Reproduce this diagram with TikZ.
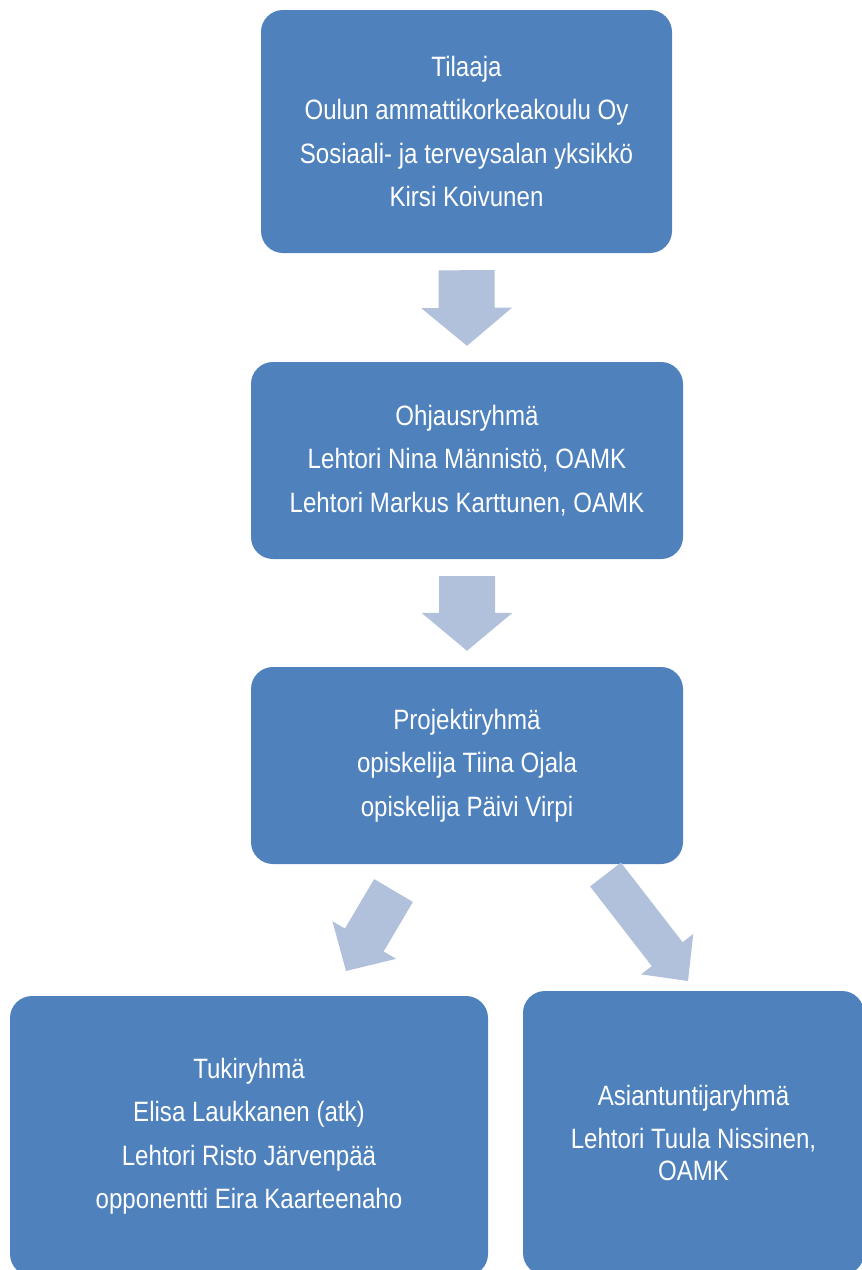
\documentclass[tikz,border=0pt]{standalone}
\usepackage{fontspec}
\setmainfont[FakeStretch=0.86]{Liberation Sans}
\usetikzlibrary{calc}
\definecolor{boxblue}{HTML}{4F81BD}
\definecolor{arrowblue}{HTML}{B2C1DB}
% block arrow: from, to, shaft half width, head half width, head length
\newcommand{\blockarrow}[5]{%
  \coordinate (h) at ($(#2)!#5!(#1)$);
  \fill[arrowblue] ($(#1)!#3!90:(#2)$) -- ($(h)!#3!90:(#2)$) -- ($(h)!#4!90:(#2)$)
    -- (#2) -- ($(h)!#4!-90:(#2)$) -- ($(h)!#3!-90:(#2)$) -- ($(#1)!#3!-90:(#2)$) -- cycle;}
\begin{document}
\begin{tikzpicture}[x=1pt,y=-1pt,
  box/.style={rectangle,rounded corners=22pt,fill=boxblue,text=white,align=center,
    inner sep=0pt,font=\fontsize{28}{32}\selectfont}]
\useasboundingbox (0,0) rectangle (862,1270);
\node[box,minimum width=411pt,minimum height=243pt] (tilaaja) at (466.5,131.5)
  {Tilaaja\\[11.5pt]Oulun ammattikorkeakoulu Oy\\[11.5pt]Sosiaali- ja terveysalan yksikkö\\[11.5pt]Kirsi Koivunen};
\node[box,minimum width=432pt,minimum height=197pt] (ohjaus) at (467,460.5)
  {Ohjausryhmä\\[11.5pt]Lehtori Nina Männistö, OAMK\\[11.5pt]Lehtori Markus Karttunen, OAMK};
\node[box,minimum width=432pt,minimum height=197pt] (projekti) at (467,765.5)
  {Projektiryhmä\\[11.5pt]opiskelija Tiina Ojala\\[11.5pt]opiskelija Päivi Virpi};
\node[box,minimum width=478pt,minimum height=280pt] (tuki) at (249,1136)
  {Tukiryhmä\\[11.5pt]Elisa Laukkanen (atk)\\[11.5pt]Lehtori Risto Järvenpää\\[11.5pt]opponentti Eira Kaarteenaho};
\node[box,minimum width=341pt,minimum height=284pt] (asiantuntija) at (693.5,1133)
  {Asiantuntijaryhmä\\[11pt]Lehtori Tuula Nissinen,\\OAMK};
\coordinate (a1s) at ([yshift=-17pt]tilaaja.south);
\coordinate (a1e) at ([yshift=16pt]ohjaus.north);
\coordinate (a2s) at ([yshift=-17pt]ohjaus.south);
\coordinate (a2e) at ([yshift=16pt]projekti.north);
\coordinate (a3s) at (393.5,890.5);
\coordinate (a3e) at (346,971);
\coordinate (a4s) at (605.5,874.5);
\coordinate (a4e) at (688,981);
\blockarrow{a1s}{a1e}{28pt}{45.5pt}{38pt}
\blockarrow{a2s}{a2e}{28pt}{45.5pt}{38pt}
\blockarrow{a3s}{a3e}{22.5pt}{37pt}{36pt}
\blockarrow{a4s}{a4e}{19.5pt}{33pt}{34pt}
\end{tikzpicture}
\end{document}
